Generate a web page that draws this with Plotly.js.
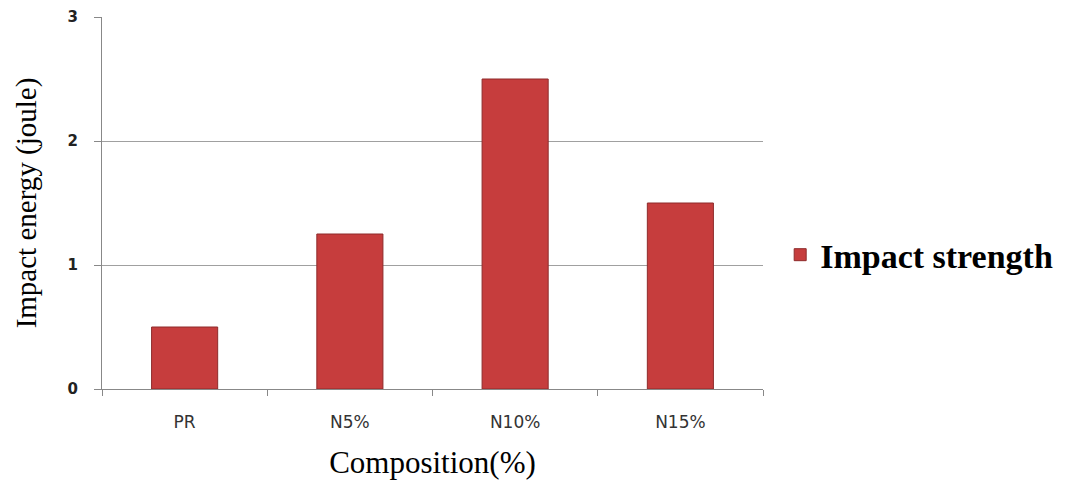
<!DOCTYPE html>
<html>
<head>
<meta charset="utf-8">
<script src="https://cdn.plot.ly/plotly-3.0.1.min.js"></script>
<style>html,body{margin:0;padding:0;background:#fff;}#chart{width:1086px;height:481px;}</style>
</head>
<body>
<div id="chart"></div>
<script>
const categories = ["PR", "N5%", "N10%", "N15%"];
const impactStrength = [0.5, 1.25, 2.5, 1.5];
const yTickValues = [0, 1, 2, 3];
const yTickLabels = ["0", "1", "2", "3"];

const data = [{
  type: "bar",
  x: categories,
  y: impactStrength,
  name: "Impact strength",
  marker: {color: "#c63d3d", line: {color: "#8e2b2b", width: 1}},
  hoverinfo: "x+y"
}];

const layout = {
  width: 1086, height: 481,
  margin: {l: 102, r: 323, t: 17, b: 92},
  paper_bgcolor: "#fff", plot_bgcolor: "#fff",
  bargap: 0.6,
  showlegend: true,
  legend: {
    x: 1.026, xanchor: "left", y: 0.36, yanchor: "middle",
    font: {family: "Liberation Serif", size: 34, color: "#000", weight: "bold"},
    itemwidth: 30
  },
  xaxis: {
    type: "category",
    tickson: "boundaries",
    ticks: "outside", ticklen: 6, tickcolor: "#888",
    showline: true, linecolor: "#888", linewidth: 1,
    showgrid: false,
    tickfont: {family: "DejaVu Sans", size: 17, color: "#333"},
    ticklabelstandoff: 18,
    title: {text: "Composition(%)", font: {family: "Liberation Serif", size: 31, color: "#000"}, standoff: 19}
  },
  yaxis: {
    range: [0, 3],
    tickvals: yTickValues, ticktext: yTickLabels,
    ticks: "outside", ticklen: 7, tickcolor: "#888",
    showline: true, linecolor: "#888", linewidth: 1,
    showgrid: true, gridcolor: "#a0a0a0", gridwidth: 1,
    zeroline: false,
    tickfont: {family: "DejaVu Sans", size: 15, color: "#222", weight: "bold"},
    ticklabelstandoff: 13,
    title: {text: "Impact energy (joule)", font: {family: "Liberation Serif", size: 29, color: "#000"}, standoff: 22}
  }
};

Plotly.newPlot("chart", data, layout, {displayModeBar: false, staticPlot: true});
</script>
</body>
</html>
